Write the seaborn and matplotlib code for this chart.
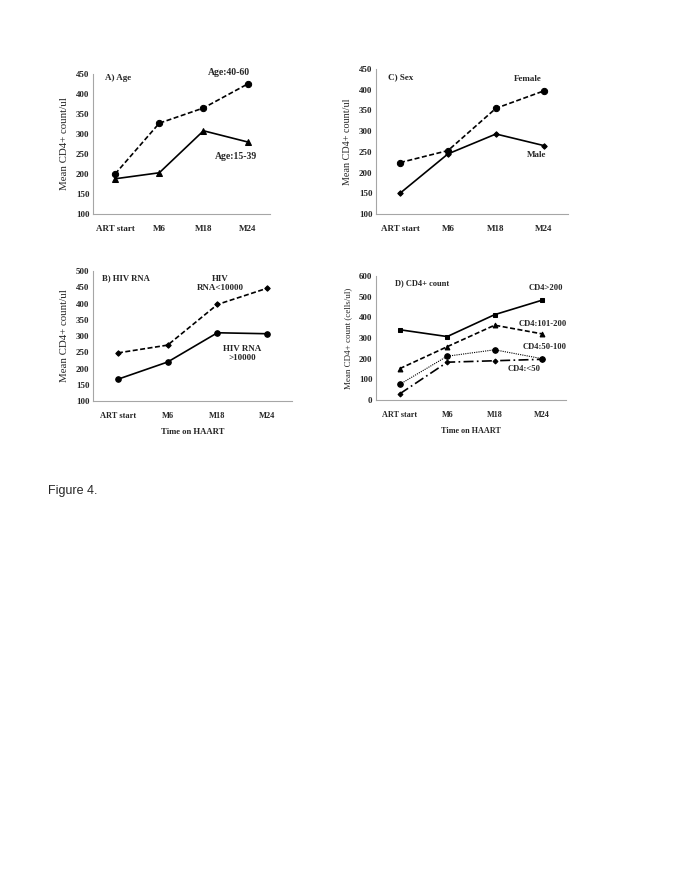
import numpy as np
import pandas as pd
import seaborn as sns
import matplotlib.pyplot as plt

# Data.
times = ['ART start', 'M6', 'M18', 'M24']

age_40_60 = [200, 327, 365, 425]
age_15_39 = [188, 203, 308, 280]

female = [224, 253, 355, 397]
male = [150, 245, 293, 265]

rna_below = [248, 272, 397, 447]
rna_above = [167, 220, 310, 307]

cd4_above_200 = [340, 307, 413, 483]
cd4_101_200 = [152, 258, 362, 320]
cd4_50_100 = [76, 212, 243, 200]
cd4_below_50 = [30, 183, 190, 197]

sns.set_style('white')
plt.rcParams['font.family'] = ['Liberation Serif', 'DejaVu Serif']

fig = plt.figure(figsize=(6.85, 8.86), dpi=100)

GREY = '#a6a6a6'


def draw(ax, values, ls, marker, ms, lw=1.2):
    df = pd.DataFrame({'t': np.arange(len(times)), 'v': values})
    sns.lineplot(data=df, x='t', y='v', ax=ax, color='black', lw=lw,
                 linestyle=ls, marker=marker, markersize=ms,
                 markeredgecolor='black', markerfacecolor='black')


def tidy(ax, ylim, step, ylabel, fs, yfs, xlabel=None, xfs=6):
    ax.set_xlim(-0.5, len(times) - 0.5)
    ax.set_ylim(*ylim)
    ax.set_yticks(np.arange(ylim[0], ylim[1] + 1, step))
    ax.set_xticks(np.arange(len(times)))
    ax.set_xticklabels(times, fontweight='bold', fontsize=fs)
    for lab in ax.get_yticklabels():
        lab.set_fontweight('bold')
        lab.set_fontsize(6.5)
    ax.tick_params(length=0, pad=2.5)
    ax.tick_params(axis='x', pad=8)
    for s in ['top', 'right']:
        ax.spines[s].set_visible(False)
    for s in ['left', 'bottom']:
        ax.spines[s].set_color(GREY)
        ax.spines[s].set_linewidth(0.8)
    ax.set_ylabel(ylabel, fontsize=yfs, labelpad=5)
    ax.set_xlabel(xlabel if xlabel else '', fontsize=xfs, fontweight='bold',
                  labelpad=6)


# A) Age
ax = fig.add_axes([0.1358, 0.7585, 0.258, 0.158])
draw(ax, age_40_60, (0, (3, 1.5)), 'o', 4.5)
draw(ax, age_15_39, '-', '^', 4)
tidy(ax, (100, 450), 50, 'Mean CD4+ count/ul', 6.5, 7.8)
ax.text(0.07, 449, 'A) Age', fontsize=6.5, fontweight='bold', va='top',
        transform=ax.get_yaxis_transform())
ax.text(2.57, 448, 'Age:40-60', fontsize=7, fontweight='bold', ha='center')
ax.text(2.73, 243, 'Age:15-39', fontsize=7, fontweight='bold', ha='center',
        va='center')

# C) Sex
ax = fig.add_axes([0.549, 0.7585, 0.280, 0.1637])
draw(ax, female, (0, (3, 1.5)), 'o', 4.5)
draw(ax, male, '-', 'D', 2.8)
tidy(ax, (100, 450), 50, 'Mean CD4+ count/ul', 6.5, 7.3)
ax.text(0.06, 440, 'C) Sex', fontsize=6.5, fontweight='bold', va='top',
        transform=ax.get_yaxis_transform())
ax.text(2.66, 426, 'Female', fontsize=6.5, fontweight='bold', ha='center',
        va='center')
ax.text(2.85, 242, 'Male', fontsize=6.5, fontweight='bold', ha='center',
        va='center')

# B) HIV RNA
ax = fig.add_axes([0.1358, 0.5474, 0.2905, 0.1467])
draw(ax, rna_below, (0, (3, 1.5)), 'D', 2.8)
draw(ax, rna_above, '-', 'o', 4)
tidy(ax, (100, 500), 50, 'Mean CD4+ count/ul', 6.0, 7.8,
     'Time on HAART', 6.2)
ax.text(0.045, 490, 'B) HIV RNA', fontsize=6.2, fontweight='bold', va='top',
        transform=ax.get_yaxis_transform())
ax.text(2.06, 461, 'HIV\nRNA<10000', fontsize=6.5, fontweight='bold',
        ha='center', va='center', linespacing=1.1)
ax.text(2.5, 246, 'HIV RNA\n>10000', fontsize=6.5, fontweight='bold',
        ha='center', va='center', linespacing=1.1)

# D) CD4+ count
ax = fig.add_axes([0.549, 0.5485, 0.277, 0.140])
draw(ax, cd4_above_200, '-', 's', 3.5)
draw(ax, cd4_101_200, (0, (3, 1.5)), '^', 3.5)
draw(ax, cd4_50_100, (0, (1, 1)), 'o', 4, lw=0.8)
draw(ax, cd4_below_50, (0, (6, 2, 1, 2)), 'D', 2.5)
tidy(ax, (0, 600), 100, 'Mean CD4+ count (cells/ul)', 5.9, 6.5,
     'Time on HAART', 5.9)
ax.text(0.10, 585, 'D) CD4+ count', fontsize=6.0, fontweight='bold',
        va='top', transform=ax.get_yaxis_transform())
ax.text(3.08, 542, 'CD4>200', fontsize=6.2, fontweight='bold', ha='center',
        va='center')
ax.text(3.02, 368, 'CD4:101-200', fontsize=6.2, fontweight='bold',
        ha='center', va='center')
ax.text(3.05, 256, 'CD4:50-100', fontsize=6.2, fontweight='bold',
        ha='center', va='center')
ax.text(2.62, 150, 'CD4:<50', fontsize=6.2, fontweight='bold', ha='center',
        va='center')

fig.text(48 / 685, 1 - 491 / 886, 'Figure 4.', fontsize=9,
         family=['Liberation Sans', 'DejaVu Sans'], va='center')

fig.savefig('out.png', dpi=100)
